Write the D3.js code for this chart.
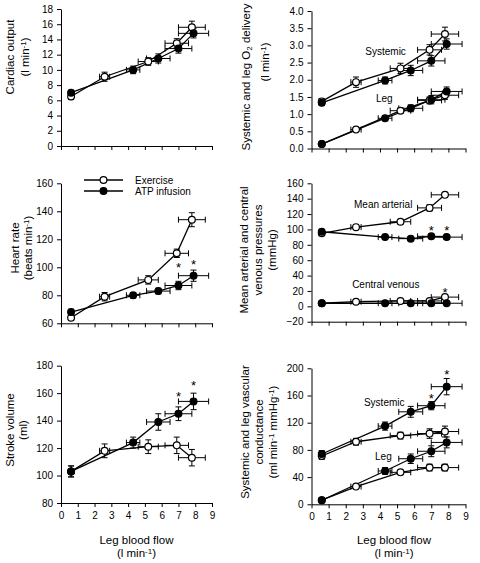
<!DOCTYPE html>
<html><head><meta charset="utf-8">
<script src="https://cdn.jsdelivr.net/npm/d3@7/dist/d3.min.js"></script>
<style>
body{margin:0;background:#fff}
text{font-family:"Liberation Sans",Arial,Helvetica,sans-serif;fill:#000}
</style>
</head><body>
<svg id="c" width="480" height="563"></svg>
<script>
// ---------- DATA ----------
const xTickValues = [0,1,2,3,4,5,6,7,8,9];
// leg blood flow (l/min)
const flowEx     = [0.6, 2.6, 5.2, 6.9, 7.8];
const flowExErr  = [0.1, 0.3, 0.6, 0.7, 0.8];
const flowAtp    = [0.6, 4.3, 5.8, 7.0, 7.9];
const flowAtpErr = [0.1, 0.4, 0.7, 0.8, 0.9];

// cardiac output
const coEx = [6.5, 9.1, 11.1, 13.5, 15.6];
const coExErr = [0.4, 0.6, 0.5, 0.6, 0.8];
const coAtp = [7.0, 10.0, 11.5, 12.8, 14.8];
const coAtpErr = [0.3, 0.5, 0.6, 0.6, 0.6];
const coTicks = [0,2,4,6,8,10,12,14,16,18];

// O2 delivery
const o2SysEx = [1.37, 1.93, 2.33, 2.87, 3.33];
const o2SysExErr = [0.08, 0.15, 0.15, 0.15, 0.2];
const o2SysAtp = [1.33, 1.98, 2.27, 2.55, 3.04];
const o2SysAtpErr = [0.08, 0.1, 0.15, 0.15, 0.15];
const o2LegEx = [0.13, 0.55, 1.1, 1.4, 1.55];
const o2LegExErr = [0.03, 0.05, 0.08, 0.1, 0.12];
const o2LegAtp = [0.13, 0.88, 1.17, 1.42, 1.66];
const o2LegAtpErr = [0.03, 0.07, 0.1, 0.12, 0.13];
const o2Ticks = [0,0.5,1,1.5,2,2.5,3,3.5,4];

// heart rate
const hrEx = [64, 79, 91, 110, 134];
const hrExErr = [2, 3, 3, 3, 5];
const hrAtp = [68, 80, 83, 87, 94];
const hrAtpErr = [2, 2, 2, 3, 4];
const hrTicks = [60,80,100,120,140,160];
const hrStars = [[7.0, 102], [7.9, 104]];

// pressures
const mapEx = [95, 103, 110, 128, 145];
const mapExErr = [3, 3, 3, 4, 3];
const mapAtp = [97, 90, 88, 91, 90];
const mapAtpErr = [3, 3, 2, 3, 3];
const cvpEx = [4, 6, 7, 7, 12];
const cvpExErr = [1, 2, 1, 1, 2];
const cvpAtp = [4, 4, 4, 4, 4];
const cvpAtpErr = [1, 1, 1, 1, 1];
const pTicks = [-20,0,20,40,60,80,100,120,140,160];
const pStars = [[7.0, 102], [7.9, 102], [7.8, 22.5]];

// stroke volume
const svEx = [103, 118, 121, 122, 113];
const svExErr = [4, 5, 5, 6, 6];
const svAtp = [103, 124, 139, 145, 154];
const svAtpErr = [4, 4, 6, 5, 6];
const svTicks = [80,100,120,140,160,180];
const svStars = [[7.0, 160], [7.9, 167.5]];

// conductance
const cSysEx = [71, 92, 101, 104, 107];
const cSysExErr = [5, 5, 5, 7, 8];
const cSysAtp = [74, 115, 136, 145, 173];
const cSysAtpErr = [5, 6, 8, 6, 12];
const cLegEx = [6, 26, 47, 54, 54];
const cLegExErr = [1, 2, 2, 5, 5];
const cLegAtp = [6, 49, 67, 78, 91];
const cLegAtpErr = [1, 5, 7, 8, 8];
const cTicks = [0,40,80,120,160,200];
const cStars = [[7.0, 160], [7.9, 195]];

// ---------- DRAW ----------
const svg = d3.select('#c');
const LEFT = [61, 212], RIGHT = [311.5, 465.5];

function ser(x, xe, y, ye, filled) { return {x, xe, y, ye, filled}; }

const panels = [
  { xr: LEFT, yDomain: [0,18], yr: [146, 9], ticks: coTicks, fmt: d3.format('d'),
    title: [["Cardiac output"], ["(l min", ["-1","sup"], ")"]], tx: [14, 29], tc: 57,
    series: [ser(flowEx, flowExErr, coEx, coExErr, false), ser(flowAtp, flowAtpErr, coAtp, coAtpErr, true)] },
  { xr: RIGHT, yDomain: [0,4], yr: [148.5, 11], ticks: o2Ticks, fmt: d3.format('.1f'),
    title: [["Systemic and leg O", ["2","sub"], " delivery"], ["(l min", ["-1","sup"], ")"]], tx: [250, 269], tc: [77, 62],
    labels: [["Systemic", 4.33, 2.72], ["Leg", 4.25, 1.36]],
    series: [ser(flowEx, flowExErr, o2SysEx, o2SysExErr, false), ser(flowAtp, flowAtpErr, o2SysAtp, o2SysAtpErr, true),
             ser(flowEx, flowExErr, o2LegEx, o2LegExErr, false), ser(flowAtp, flowAtpErr, o2LegAtp, o2LegAtpErr, true)] },
  { xr: LEFT, yDomain: [60,160], yr: [323.3, 183.3], ticks: hrTicks, fmt: d3.format('d'),
    title: [["Heart rate"], ["(beats min", ["-1","sup"], ")"]], tx: [19, 32], tc: 248, legend: true, stars: hrStars,
    series: [ser(flowEx, flowExErr, hrEx, hrExErr, false), ser(flowAtp, flowAtpErr, hrAtp, hrAtpErr, true)] },
  { xr: RIGHT, yDomain: [-20,160], yr: [321.7, 183.3], ticks: pTicks, fmt: d3.format('d'),
    title: [["Mean arterial and central"], ["venous pressures"], ["(mmHg)"]], tx: [248, 262, 276], tc: 250,
    labels: [["Mean arterial", 4.19, 128], ["Central venous", 4.34, 24]], stars: pStars,
    series: [ser(flowEx, flowExErr, mapEx, mapExErr, false), ser(flowAtp, flowAtpErr, mapAtp, mapAtpErr, true),
             ser(flowEx, flowExErr, cvpEx, cvpExErr, false), ser(flowAtp, flowAtpErr, cvpAtp, cvpAtpErr, true)] },
  { xr: LEFT, yDomain: [80,180], yr: [503, 365.7], ticks: svTicks, fmt: d3.format('d'), xLabels: true,
    title: [["Stroke volume"], ["(ml)"]], tx: [14, 27], tc: 430, xtc: 136.5, stars: svStars,
    series: [ser(flowEx, flowExErr, svEx, svExErr, false), ser(flowAtp, flowAtpErr, svAtp, svAtpErr, true)] },
  { xr: RIGHT, yDomain: [0,200], yr: [504.3, 368.3], ticks: cTicks, fmt: d3.format('d'), xLabels: true,
    title: [["Systemic and leg vascular"], ["conductance"], ["(ml min", ["-1","sup"], " mmHg", ["-1","sup"], ")"]], tx: [249, 263, 277], tc: 432, xtc: 394,
    labels: [["Systemic", 4.25, 145], ["Leg", 4.2, 65]], stars: cStars,
    series: [ser(flowEx, flowExErr, cSysEx, cSysExErr, false), ser(flowAtp, flowAtpErr, cSysAtp, cSysAtpErr, true),
             ser(flowEx, flowExErr, cLegEx, cLegExErr, false), ser(flowAtp, flowAtpErr, cLegAtp, cLegAtpErr, true)] }
];

function addRich(textSel, parts, size) {
  parts.forEach(p => {
    if (typeof p === 'string') textSel.append('tspan').text(p);
    else {
      const t = textSel.append('tspan').text(p[0]).attr('font-size', size * 0.7);
      t.attr('baseline-shift', p[1] === 'sup' ? '40%' : '-25%');
    }
  });
}

const R = 3.4;

panels.forEach(p => {
  const x = d3.scaleLinear().domain([0, 9]).range(p.xr);
  const y = d3.scaleLinear().domain(p.yDomain).range(p.yr);
  const g = svg.append('g');

  const xa = g.append('g').attr('transform', `translate(0,${p.yr[0]})`)
    .call(d3.axisBottom(x).tickValues(xTickValues).tickSize(4).tickSizeOuter(0).tickPadding(5)
      .tickFormat(p.xLabels ? d3.format('d') : () => ''));
  const ya = g.append('g').attr('transform', `translate(${p.xr[0]},0)`)
    .call(d3.axisLeft(y).tickValues(p.ticks).tickSize(4).tickSizeOuter(0).tickPadding(4).tickFormat(p.fmt));
  [xa, ya].forEach(a => {
    a.selectAll('path,line').attr('stroke', '#000').attr('stroke-width', 1);
    a.selectAll('text').attr('font-size', 10).attr('font-family', '"Liberation Sans",Arial,sans-serif').attr('fill', '#000');
  });

  // y title
  p.title.forEach((parts, i) => {
    const cy = Array.isArray(p.tc) ? p.tc[i] : p.tc;
    const t = g.append('text').attr('transform', `translate(${p.tx[i]},${cy}) rotate(-90)`)
      .attr('text-anchor', 'middle').attr('font-size', 11.5);
    addRich(t, parts, 11.5);
  });

  // x title
  if (p.xLabels) {
    g.append('text').attr('x', p.xtc).attr('y', 544).attr('text-anchor', 'middle').attr('font-size', 11.5).text('Leg blood flow');
    const t2 = g.append('text').attr('x', p.xtc).attr('y', 557).attr('text-anchor', 'middle').attr('font-size', 11.5);
    addRich(t2, ["(l min", ["-1", "sup"], ")"], 11.5);
  }

  const pts = p.series.map(s => s.x.map((xi, i) => ({x: xi, xe: s.xe[i], y: s.y[i], ye: s.ye[i]})));
  const line = d3.line().x(d => x(d.x)).y(d => y(d.y));
  pts.forEach(ps => g.append('path').attr('d', line(ps)).attr('fill', 'none').attr('stroke', '#000').attr('stroke-width', 1.3));

  // error bars
  pts.forEach(ps => ps.forEach(d => {
    const cx = x(d.x), cy = y(d.y);
    const eg = g.append('g').attr('stroke', '#000').attr('stroke-width', 1);
    const y1 = y(d.y - d.ye), y2 = y(d.y + d.ye);
    eg.append('line').attr('x1', cx).attr('x2', cx).attr('y1', y1).attr('y2', y2);
    eg.append('line').attr('x1', cx - 3).attr('x2', cx + 3).attr('y1', y1).attr('y2', y1);
    eg.append('line').attr('x1', cx - 3).attr('x2', cx + 3).attr('y1', y2).attr('y2', y2);
    const x1 = x(d.x - d.xe), x2 = x(d.x + d.xe);
    eg.append('line').attr('x1', x1).attr('x2', x2).attr('y1', cy).attr('y2', cy);
    eg.append('line').attr('x1', x1).attr('x2', x1).attr('y1', cy - 3).attr('y2', cy + 3);
    eg.append('line').attr('x1', x2).attr('x2', x2).attr('y1', cy - 3).attr('y2', cy + 3);
  }));

  // markers
  p.series.forEach((s, si) => {
    g.selectAll(null).data(pts[si]).enter().append('circle')
      .attr('cx', d => x(d.x)).attr('cy', d => y(d.y)).attr('r', R)
      .attr('fill', s.filled ? '#000' : '#fff').attr('stroke', '#000').attr('stroke-width', 1.2);
  });

  // significance asterisks
  (p.stars || []).forEach(st => {
    g.append('text').attr('x', x(st[0])).attr('y', y(st[1]) + 7.5).attr('text-anchor', 'middle')
      .attr('font-size', 13).attr('fill', '#333').text('*');
  });

  (p.labels || []).forEach(l => {
    g.append('text').attr('x', x(l[1])).attr('y', y(l[2])).attr('text-anchor', 'middle').attr('font-size', 10).text(l[0]);
  });

  if (p.legend) {
    [["Exercise", false, 180], ["ATP infusion", true, 191]].forEach(([lab, filled, ly]) => {
      g.append('line').attr('x1', 84).attr('x2', 123).attr('y1', ly).attr('y2', ly).attr('stroke', '#000').attr('stroke-width', 1.3);
      g.append('circle').attr('cx', 103.5).attr('cy', ly).attr('r', R)
        .attr('fill', filled ? '#000' : '#fff').attr('stroke', '#000').attr('stroke-width', 1.2);
      g.append('text').attr('x', 135).attr('y', ly + 3.5).attr('font-size', 10).text(lab);
    });
  }
});
</script>
</body></html>
